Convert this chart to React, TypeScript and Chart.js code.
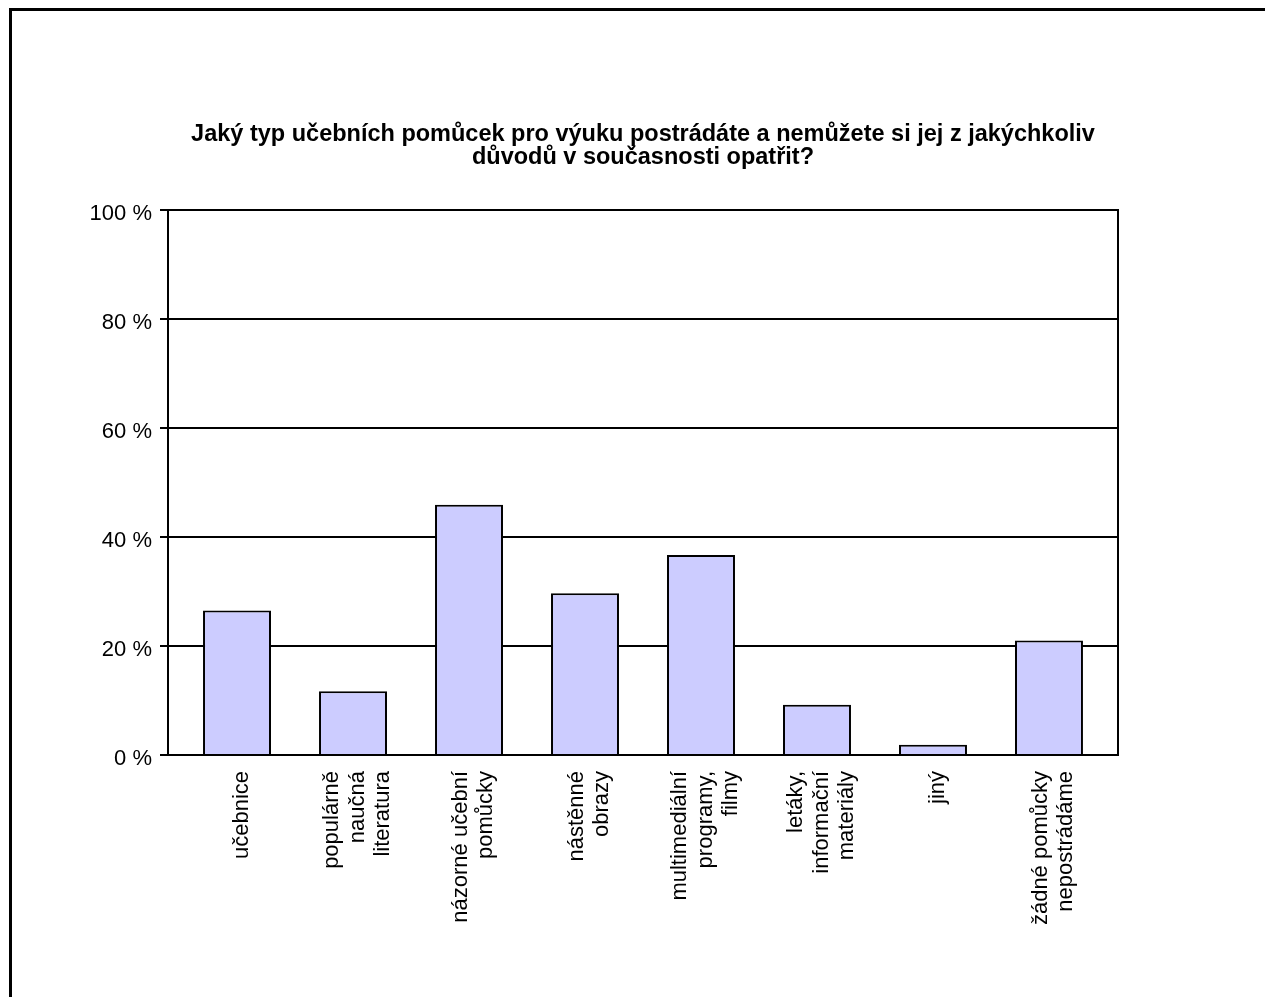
import React, { useEffect, useRef } from "react";
import { Chart, registerables } from "chart.js";

Chart.register(...registerables);

const titleLines = [
  "Jaký typ učebních pomůcek pro výuku postrádáte a nemůžete si jej z jakýchkoliv",
  "důvodů v současnosti opatřit?",
];

const categoryLines: string[][] = [
  ["učebnice"],
  ["populárně", "naučná", "literatura"],
  ["názorné učební", "pomůcky"],
  ["nástěnné", "obrazy"],
  ["multimediální", "programy,", "filmy"],
  ["letáky,", "informační", "materiály"],
  ["jiný"],
  ["žádné pomůcky", "nepostrádáme"],
];

const percentValues = [26.5, 11.7, 45.9, 29.7, 36.7, 9.2, 1.9, 21.0];

const yTickValues = [0, 20, 40, 60, 80, 100];

const FONT = "'Liberation Sans', Arial, sans-serif";

// Interleave empty half-lines so that 1-, 2- and 3-line labels are all centred on their tick.
function centred(lines: string[]): string[] {
  const out: string[] = [];
  const start = 2 - (lines.length - 1);
  for (let i = 0; i < start; i++) out.push("");
  lines.forEach((l, i) => {
    if (i > 0) out.push("");
    out.push(l);
  });
  return out;
}

export default function App() {
  const ref = useRef<HTMLCanvasElement | null>(null);

  useEffect(() => {
    if (!ref.current) return;
    const chart = new Chart(ref.current, {
      type: "bar",
      data: {
        datasets: [
          {
            data: percentValues.map((v, i) => ({ x: i, y: v })),
            backgroundColor: "#CCCCFF",
            borderColor: "#000000",
            borderWidth: 2,
            categoryPercentage: 1,
            barPercentage: 0.586,
          },
        ],
      },
      options: {
        animation: false,
        responsive: false,
        events: [],
        layout: { padding: { left: 20, right: 134, top: 0, bottom: 0 } },
        plugins: {
          legend: { display: false },
          tooltip: { enabled: false },
          title: {
            display: true,
            fullSize: false,
            text: titleLines,
            color: "#000",
            font: { family: FONT, size: 23.5, weight: "bold", lineHeight: 23 / 23.5 },
            padding: { top: 112.5, bottom: 40.5 },
          },
        },
        scales: {
          x: {
            type: "linear",
            min: -0.595,
            max: 7.595,
            offset: false,
            afterBuildTicks: (scale: any) => {
              scale.ticks = categoryLines.map((_, i) => ({ value: i }));
            },
            afterFit: (scale: any) => {
              scale.height = 231;
            },
            grid: { display: false, drawTicks: false, tickLength: 0, offset: false },
            border: { display: true, color: "#000", width: 2 },
            ticks: {
              autoSkip: false,
              minRotation: 90,
              maxRotation: 90,
              padding: 16,
              labelOffset: -21,
              color: "#000",
              font: { family: FONT, size: 22, lineHeight: 12.8 / 22 },
              callback: (value: any) => {
                const lines = categoryLines[Math.round(Number(value))];
                return lines ? centred(lines) : "";
              },
            },
          },
          y: {
            min: 0,
            max: 100,
            afterBuildTicks: (scale: any) => {
              scale.ticks = yTickValues.map((v) => ({ value: v }));
            },
            afterFit: (scale: any) => {
              scale.width = 136;
            },
            grid: { color: "#000", lineWidth: 2, tickLength: 8, drawTicks: true },
            border: { display: true, color: "#000", width: 2 },
            ticks: {
              padding: 8,
              labelOffset: 4,
              color: "#000",
              font: { family: FONT, size: 22 },
              callback: (value: any) => `${value} %`,
            },
          },
          yRight: {
            position: "right",
            min: 0,
            max: 100,
            afterFit: (scale: any) => {
              scale.width = 0;
            },
            grid: { display: false, drawTicks: false },
            border: { display: true, color: "#000", width: 2 },
            ticks: { display: false },
          },
        },
      } as any,
    });
    return () => chart.destroy();
  }, []);

  return (
    <div
      style={{
        position: "fixed",
        left: 9,
        top: 8,
        width: 1300,
        height: 1050,
        border: "3px solid #000",
        boxSizing: "border-box",
        background: "#fff",
      }}
    >
      <canvas ref={ref} width={1240} height={975} style={{ display: "block" }} />
    </div>
  );
}
